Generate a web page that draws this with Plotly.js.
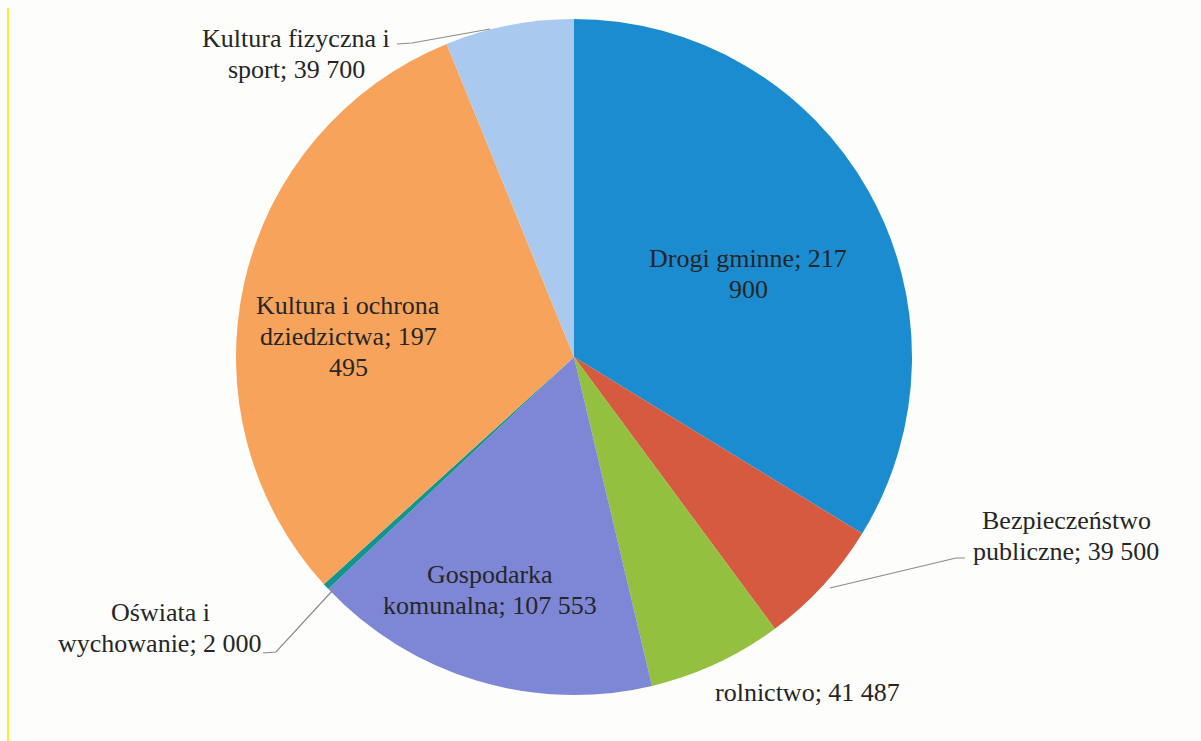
<!DOCTYPE html>
<html>
<head>
<meta charset="utf-8">
<script src="https://cdn.plot.ly/plotly-3.0.1.min.js"></script>
<style>
  html, body { margin: 0; padding: 0; background: #fdfdfb; }
  #chart { width: 1201px; height: 741px; }
</style>
</head>
<body>
<div id="chart"></div>
<script>
// ---- data ----
const categories = [
  'Drogi gminne',
  'Bezpieczeństwo publiczne',
  'rolnictwo',
  'Gospodarka komunalna',
  'Oświata i wychowanie',
  'Kultura i ochrona dziedzictwa',
  'Kultura fizyczna i sport'
];
const values = [217900, 39500, 41487, 107553, 2000, 197495, 39700];
const colors = ['#1c8cd0', '#d65a40', '#93c03e', '#7e87d6', '#12958f', '#f7a35c', '#a9c9ef'];

// how the data labels wrap (word count on each line, like in the original)
const wrapWords = [[3, 1], [1, 3], [3], [1, 3], [2, 3], [3, 2, 1], [3, 3]];

// ---- helpers ----
const W = 1201, H = 741;
const px = x => x / W;
const py = y => 1 - y / H;
function fmt(v) {
  return String(v).replace(/\B(?=(\d{3})+(?!\d))/g, ' ');
}
function labelLines(i) {
  const words = (categories[i] + '; ' + fmt(values[i])).split(' ');
  const lines = [];
  let k = 0;
  for (const n of wrapWords[i]) {
    lines.push(words.slice(k, k + n).join(' '));
    k += n;
  }
  return lines;
}

// label block centres (pixels) and leader lines
const labelPos = [[748, 274], [1066, 536], [807, 692], [490, 590], [160, 628], [348, 336], [296, 54]];
const leaders = [
  null,
  [[965, 558], [956, 558], [830, 588]],
  null,
  null,
  [[263, 653], [276, 652], [333, 590]],
  null,
  [[397, 44], [412, 43], [490, 29]]
];

const FONT = 'Liberation Serif';
const lineGap = 31;
const annotations = [];
categories.forEach((c, i) => {
  const lines = labelLines(i);
  const [cx, cy] = labelPos[i];
  lines.forEach((t, j) => {
    const y = cy + (j - (lines.length - 1) / 2) * lineGap;
    annotations.push({
      xref: 'paper', yref: 'paper',
      x: px(cx), y: py(y),
      xanchor: 'center', yanchor: 'middle',
      text: t, showarrow: false,
      font: { family: FONT, size: 26, color: '#262626' }
    });
  });
});

const shapes = [];
leaders.forEach(l => {
  if (!l) return;
  const d = l.map((p, k) => (k ? 'L' : 'M') + px(p[0]) + ',' + py(p[1])).join(' ');
  shapes.push({ type: 'path', xref: 'paper', yref: 'paper', path: d,
    line: { color: '#8a8a8a', width: 1.2 } });
});
// yellow edge of the scanned page
shapes.push({ type: 'line', xref: 'paper', yref: 'paper',
  x0: px(8), x1: px(8), y0: 0, y1: py(8), line: { color: '#f2ee3a', width: 2 } });

const cx = 574, cy = 357, r = 338;
const trace = {
  type: 'pie',
  labels: categories,
  values: values,
  sort: false,
  direction: 'clockwise',
  rotation: 0,
  textinfo: 'none',
  hoverinfo: 'label+value',
  marker: { colors: colors, line: { width: 0 } },
  domain: { x: [px(cx - r), px(cx + r)], y: [py(cy + r), py(cy - r)] },
  showlegend: false
};

Plotly.newPlot('chart', [trace], {
  width: W, height: H,
  margin: { l: 0, r: 0, t: 0, b: 0 },
  paper_bgcolor: '#fdfdfb',
  font: { family: FONT },
  showlegend: false,
  annotations: annotations,
  shapes: shapes
}, { displayModeBar: false, staticPlot: true });
</script>
</body>
</html>
